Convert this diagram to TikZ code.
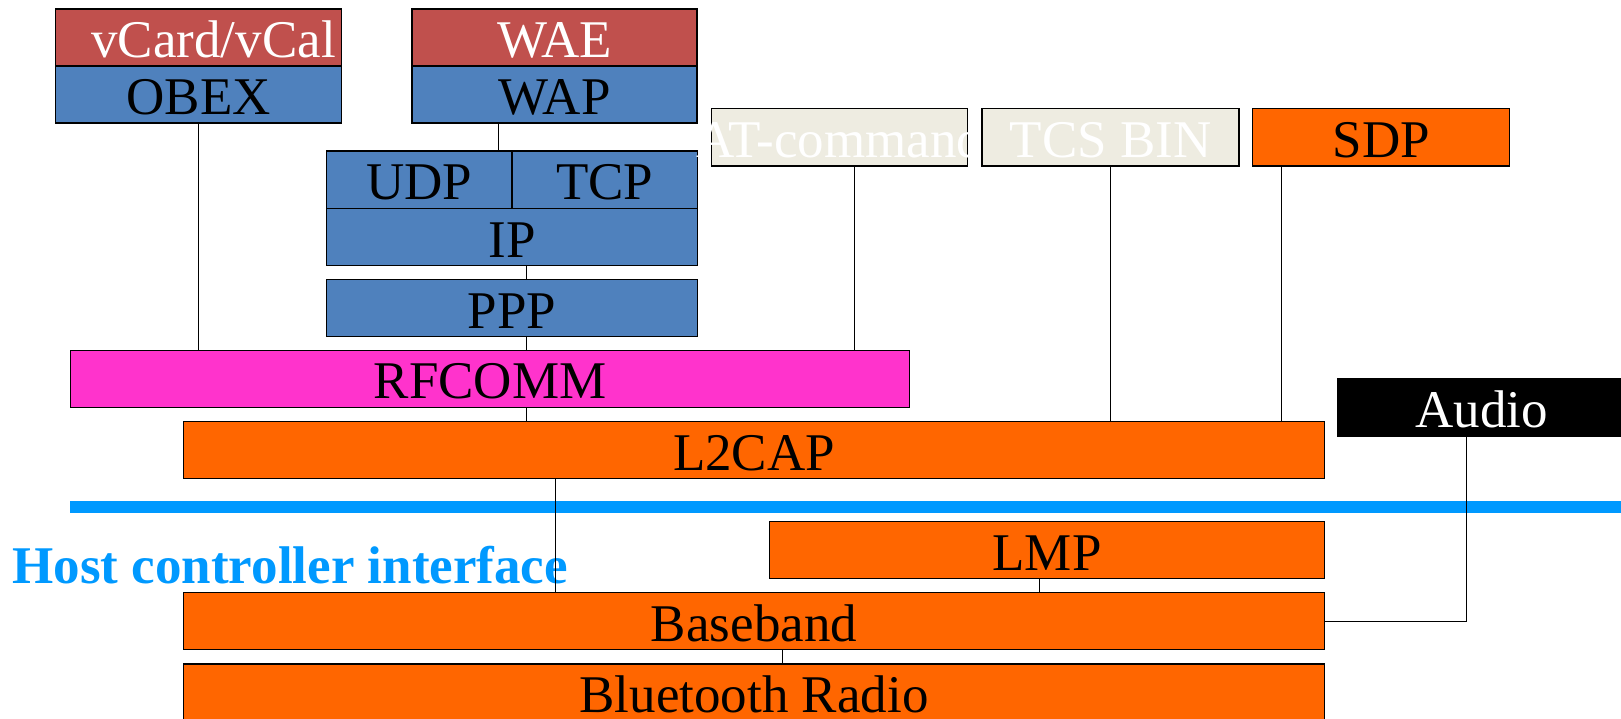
\documentclass[tikz,border=0pt]{standalone}
\usepackage{fontspec}
\setmainfont{Liberation Serif}
\usepackage{xcolor}
\usepackage{tikz}
\usetikzlibrary{calc}
\definecolor{appred}{HTML}{C0504D}
\definecolor{protblue}{HTML}{4F81BD}
\definecolor{rfpink}{HTML}{FF33CC}
\definecolor{btorange}{HTML}{FF6600}
\definecolor{ctrlgray}{HTML}{EEECE1}
\definecolor{hciblue}{HTML}{0099FF}
\tikzstyle{layer}=[rectangle, draw=black, line width=1.2pt, inner sep=0pt,% one stack box
minimum height=57pt, text height=40pt, text depth=0pt, font=\fontsize{53}{56}\selectfont]
\tikzstyle{app}=[layer, fill=appred, text=white]
\tikzstyle{prot}=[layer, fill=protblue]
\tikzstyle{core}=[layer, fill=btorange]
\tikzstyle{ctrl}=[layer, fill=ctrlgray, text=white]
\tikzstyle{link}=[line width=1pt]
\tikzstyle{hcibar}=[hciblue, line width=12pt]
\begin{document}
\begin{tikzpicture}[x=1pt,y=-1pt]
\useasboundingbox (0,0) rectangle (1621,718);
\clip (0,0) rectangle (1621,718);
\node[app,minimum width=286pt,text width=274pt,align=right] (vcard) at (198.7,37.5) {vCard/vCal};
\node[prot,minimum width=286pt] (obex) at (198.7,94.5) {OBEX};
\node[app,minimum width=285pt] (wae) at (554.5,37.5) {WAE};
\node[prot,minimum width=285pt] (wap) at (554.5,94.5) {WAP};
\node[prot,minimum width=185.5pt,minimum height=57.5pt] (udp) at (419.25,179.75) {UDP};
\node[prot,minimum width=185.5pt,minimum height=57.5pt] (tcp) at (604.75,179.75) {TCP};
\node[prot,minimum width=371pt] (ip) at (512,237) {IP};
\node[prot,minimum width=371pt] (ppp) at (512,308.2) {PPP};
\node[ctrl,minimum width=256pt,minimum height=57.7pt,inner xsep=-30pt] (atcmd) at (839.7,137.2) {AT-command};
\node[ctrl,minimum width=257pt,minimum height=57.7pt] (tcsbin) at (1110.5,137.2) {TCS BIN};
\node[core,minimum width=257pt,minimum height=57.7pt] (sdp) at (1381.3,137.2) {SDP};
\node[layer,fill=rfpink,minimum width=839.5pt] (rfcomm) at (490,378.7) {RFCOMM};
\node[layer,fill=black,text=white,minimum width=287pt,minimum height=58pt] (audio) at (1481.5,407.7) {Audio};
\node[core,minimum width=1140.3pt] (l2cap) at (754,450.2) {L2CAP};
\node[core,minimum width=555pt] (lmp) at (1047,550.3) {LMP};
\node[core,minimum width=1140.3pt] (baseband) at (754,621.3) {Baseband};
\node[core,minimum width=1140.3pt] (radio) at (754,692.5) {Bluetooth Radio};
% host controller interface
\coordinate (hcil) at (70.3,507);
\coordinate (hcir) at (1640,507);
\draw[hcibar] (hcil) -- (hcir);
\node[anchor=base west,inner sep=0pt,text=hciblue,font=\bfseries\fontsize{53}{56}\selectfont] (hcitext) at (12.4,583) {Host controller interface};
% taps
\coordinate (waptap) at ([xshift=-56.5pt]wap.south);
\coordinate (iptap) at ([xshift=14.7pt]ip.south);
\coordinate (attap) at ([xshift=14.3pt]atcmd.south);
\coordinate (sdptap) at ([xshift=-100pt]sdp.south);
\coordinate (l2tap) at ([xshift=-198.7pt]l2cap.south);
\coordinate (lmptap) at ([xshift=-7.7pt]lmp.south);
\coordinate (bbtap) at ([xshift=28.8pt]baseband.south);
\coordinate (audiotap) at ([xshift=-14.8pt]audio.south);
\draw[link] (obex) -- (obex |- rfcomm.north);
\draw[link] (waptap) -- (waptap |- udp.north);
\draw[link] (iptap) -- (iptap |- ppp.north);
\draw[link] (iptap |- ppp.south) -- (iptap |- rfcomm.north);
\draw[link] (iptap |- rfcomm.south) -- (iptap |- l2cap.north);
\draw[link] (attap) -- (attap |- rfcomm.north);
\draw[link] (tcsbin) -- (tcsbin |- l2cap.north);
\draw[link] (sdptap) -- (sdptap |- l2cap.north);
\draw[link] (l2tap) -- (l2tap |- baseband.north);
\draw[link] (lmptap) -- (lmptap |- baseband.north);
\draw[link] (bbtap) -- (bbtap |- radio.north);
\draw[link] (audiotap) |- (baseband.east);
\end{tikzpicture}
\end{document}
